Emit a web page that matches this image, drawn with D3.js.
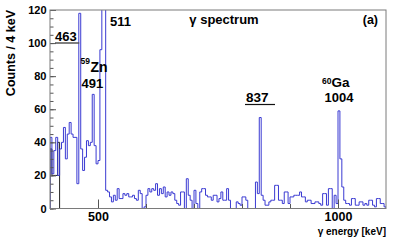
<!DOCTYPE html>
<html>
<head>
<meta charset="utf-8">
<script src="https://cdn.jsdelivr.net/npm/d3@7/dist/d3.min.js"></script>
<style>
  html, body { margin: 0; padding: 0; background: #fff; }
  svg { display: block; }
  text { font-family: "Liberation Sans", Arial, Helvetica, sans-serif; font-weight: bold; fill: #000; }
</style>
</head>
<body>
<div id="chart"></div>
<script>
// ---- data ----
const energyMin = 400;      // keV, lower edge of first bin
const energyMax = 1100;     // keV, upper edge of last bin
const binWidth = 4;         // keV per bin
const counts = [
  43,21,35,43,20,36,40,49,30,45,52,45,43,43,15,
  118,
  36,23,31,41,38,40,69,38,27,29,96,350,200,
  11,10,7,4,8,5,12,6,6,9,8,9,7,7,8,6,5,11,9,0,1,8,12,10,12,11,15,8,12,9,13,7,10,8,10,9,5,3,2,
  10,10,0,18,8,5,0,11,3,0,10,12,12,8,7,7,5,8,8,4,6,10,5,5,12,5,0,0,0,4,3,2,7,7,5,0,0,0,0,16,9,55,
  8,5,2,2,4,5,5,14,14,5,5,3,10,10,3,7,7,8,8,8,
  10,7,7,4,5,5,3,3,4,4,3,2,9,9,2,12,12,0,8,3,
  59,30,13,5,3,3,2,6,6,2,2,4,4,2,3,2,5,5,2,1,6,6,3,3,1
];
const blackCounts = [36,20,20,20,40];   // second (black) histogram, first bins only
const yMax = 120;
const xMajorTicks = [500, 1000];
const xMinorTicks = [500, 600, 700, 800, 900, 1000];
const yMajorTicks = [0, 20, 40, 60, 80, 100, 120];
const yMinorTicks = d3.range(0, 121, 5);
const title = "γ spectrum";
const panelLabel = "(a)";
const xTitle = "γ energy [keV]";
const yTitle = "Counts / 4 keV";
const peakLabels = [
  { text: "463", e: 463 },
  { text: "511", e: 511 },
  { text: "491", e: 491, nucl: "Zn", mass: "59" },
  { text: "837", e: 837 },
  { text: "1004", e: 1004, nucl: "Ga", mass: "60" }
];

// ---- layout ----
const W = 415, H = 246;
const L = 50, R = 386, T = 10, B = 208.5;

const svg = d3.select("#chart").append("svg").attr("width", W).attr("height", H);

const x = d3.scaleLinear().domain([energyMin, energyMax]).range([L, R]);
const y = d3.scaleLinear().domain([0, yMax]).range([B, T]);

svg.append("defs").append("clipPath").attr("id", "clip")
  .append("rect").attr("x", L).attr("y", T).attr("width", R - L).attr("height", B - T);

function stepPath(vals) {
  let d = `M${x(energyMin)},${y(0)}`;
  vals.forEach((v, i) => {
    const e0 = energyMin + i * binWidth, e1 = e0 + binWidth;
    d += `L${x(e0)},${y(v)}L${x(e1)},${y(v)}`;
  });
  d += `L${x(energyMin + vals.length * binWidth)},${y(0)}`;
  return d;
}

const plot = svg.append("g").attr("clip-path", "url(#clip)");
plot.append("path").attr("d", stepPath(blackCounts))
  .attr("fill", "none").attr("stroke", "#222").attr("stroke-width", 1);
plot.append("path").attr("d", stepPath(counts))
  .attr("fill", "none").attr("stroke", "#3a3ad2").attr("stroke-width", 1);

// axes
const gx = svg.append("g").attr("transform", `translate(0,${B})`)
  .call(d3.axisBottom(x).tickValues(xMajorTicks).tickSize(-9).tickPadding(4).tickFormat(d3.format("d")));
const gxm = svg.append("g").attr("transform", `translate(0,${B})`)
  .call(d3.axisBottom(x).tickValues(xMinorTicks).tickSize(-4.5).tickFormat(""));
const gy = svg.append("g").attr("transform", `translate(${L},0)`)
  .call(d3.axisLeft(y).tickValues(yMajorTicks).tickSize(-6).tickPadding(3.5));
const gym = svg.append("g").attr("transform", `translate(${L},0)`)
  .call(d3.axisLeft(y).tickValues(yMinorTicks).tickSize(-3.5).tickFormat(""));
[gx, gxm, gy, gym].forEach(g => {
  g.select(".domain").remove();
  g.selectAll("line").attr("stroke", "#555");
});
gx.selectAll("text").style("font-size", "12.5px").style("font-weight", "bold").attr("fill", "#000")
  .style("font-family", "'Liberation Sans', Arial, sans-serif");
gy.selectAll("text").style("font-size", "11px").style("font-weight", "bold").attr("fill", "#000")
  .style("font-family", "'Liberation Sans', Arial, sans-serif");

// frame
svg.append("rect").attr("x", L).attr("y", T).attr("width", R - L).attr("height", B - T)
  .attr("fill", "none").attr("stroke", "#7a7a7a").attr("stroke-width", 1);

// titles
svg.append("text").attr("x", 224).attr("y", 24).attr("text-anchor", "middle")
  .style("font-size", "13px").text(title);
svg.append("text").attr("x", 378).attr("y", 24).attr("text-anchor", "end")
  .style("font-size", "12.5px").text(panelLabel);
svg.append("text").attr("x", R).attr("y", 234.5).attr("text-anchor", "end")
  .style("font-size", "10px").text(xTitle);
svg.append("text").attr("transform", `translate(15,${T}) rotate(-90)`).attr("text-anchor", "end")
  .style("font-size", "12.5px").text(yTitle);

// peak annotations
const ann = svg.append("g");
// 463
ann.append("text").attr("x", 55).attr("y", 41).style("font-size", "13px").text(peakLabels[0].text);
ann.append("line").attr("x1", 55).attr("x2", x(peakLabels[0].e) - 1).attr("y1", 43).attr("y2", 43)
  .attr("stroke", "#555").attr("stroke-width", 1.5);
// 511
ann.append("text").attr("x", 110).attr("y", 26).style("font-size", "13px").text(peakLabels[1].text);
// 59Zn / 491
ann.append("text").attr("x", 80.5).attr("y", 63.5).style("font-size", "8.5px").text(peakLabels[2].mass);
ann.append("text").attr("x", 90.5).attr("y", 72).style("font-size", "14px").text(peakLabels[2].nucl);
ann.append("text").attr("x", 81.5).attr("y", 87.5).style("font-size", "13px").text(peakLabels[2].text);
// 837
ann.append("text").attr("x", 246).attr("y", 101.5).style("font-size", "13.5px").text(peakLabels[3].text);
ann.append("line").attr("x1", 245).attr("x2", 275).attr("y1", 104.5).attr("y2", 104.5)
  .attr("stroke", "#111").attr("stroke-width", 1.2);
// 60Ga / 1004
ann.append("text").attr("x", 322).attr("y", 83.5).style("font-size", "8.5px").text(peakLabels[4].mass);
ann.append("text").attr("x", 331.5).attr("y", 87).style("font-size", "13.5px").text(peakLabels[4].nucl);
ann.append("text").attr("x", 324.5).attr("y", 102).style("font-size", "13px").text(peakLabels[4].text);
</script>
</body>
</html>
